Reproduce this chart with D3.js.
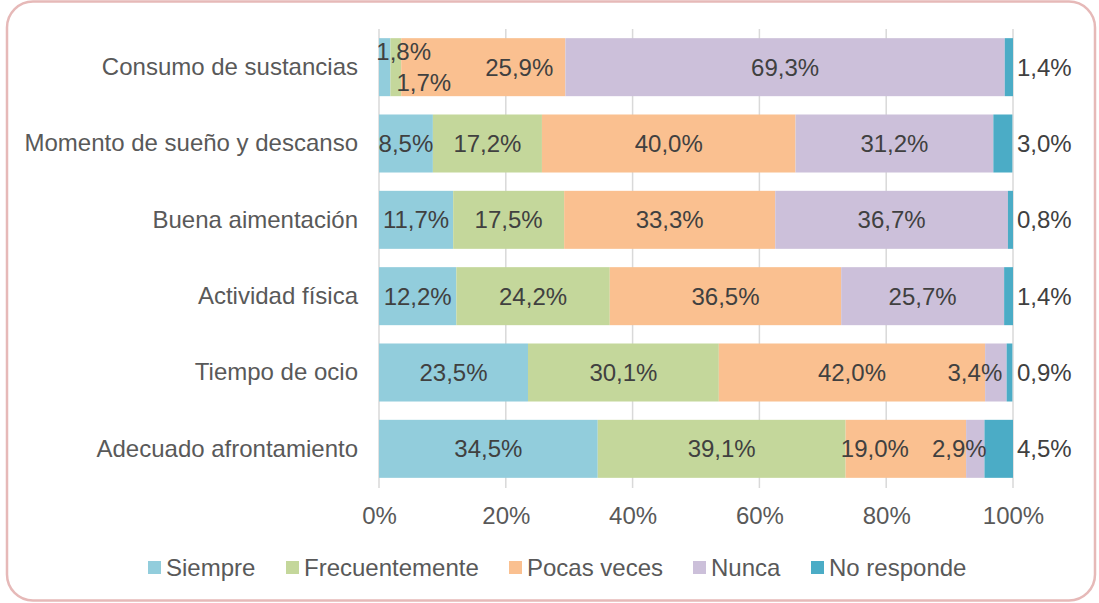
<!DOCTYPE html>
<html>
<head>
<meta charset="utf-8">
<script src="https://cdn.jsdelivr.net/npm/d3@7"></script>
<style>
  body { margin: 0; background: #fff; }
  svg { display: block; font-family: "Liberation Sans", Arial, sans-serif; }
</style>
</head>
<body>
<svg class="chart"></svg>
<script>
// data (percent)
var categories = ["Consumo de sustancias", "Momento de sueño y descanso", "Buena aimentación",
                  "Actividad física", "Tiempo de ocio", "Adecuado afrontamiento"];
var seriesNames = ["Siempre", "Frecuentemente", "Pocas veces", "Nunca", "No responde"];
var siempre        = [1.8, 8.5, 11.7, 12.2, 23.5, 34.5];
var frecuentemente = [1.7, 17.2, 17.5, 24.2, 30.1, 39.1];
var pocasVeces     = [25.9, 40.0, 33.3, 36.5, 42.0, 19.0];
var nunca          = [69.3, 31.2, 36.7, 25.7, 3.4, 2.9];
var noResponde     = [1.4, 3.0, 0.8, 1.4, 0.9, 4.5];
var xTicks = [0, 20, 40, 60, 80, 100];

var colors = ["#92CDDC", "#C4D79B", "#FAC090", "#CCC0DA", "#4BACC6"];

// hand-moved labels, as in the original (category index + series index -> px nudge)
var labelNudge = {
  "0-0": [19, -16], "0-1": [28, 15], "0-2": [36, 0],
  "4-3": [-21, 0],
  "5-2": [-31, 0], "5-3": [-16, 0]
};

var width = 1099, height = 603;
var fontSize = 24;

var svg = d3.select(".chart").attr("width", width).attr("height", height);

// rounded frame
svg.append("rect")
  .attr("x", 7).attr("y", 1.5)
  .attr("width", 1088).attr("height", 599)
  .attr("rx", 26).attr("ry", 26)
  .attr("fill", "#fff")
  .attr("stroke", "#E6B9B8")
  .attr("stroke-width", 2.5);

var x = d3.scaleLinear().domain([0, 100]).range([379, 1013]);
var y = d3.scaleBand().domain(categories).range([29, 487])
  .paddingInner(0.24).paddingOuter(0.12);

// gridlines
svg.append("g").selectAll("line")
  .data(xTicks)
  .enter().append("line")
  .attr("x1", function(d) { return x(d); })
  .attr("x2", function(d) { return x(d); })
  .attr("y1", 29).attr("y2", 488)
  .attr("stroke", "#D9D9D9")
  .attr("stroke-width", 1.5);

// stack the series
var table = categories.map(function(c, i) {
  var row = { cat: c, idx: i };
  row[seriesNames[0]] = siempre[i];
  row[seriesNames[1]] = frecuentemente[i];
  row[seriesNames[2]] = pocasVeces[i];
  row[seriesNames[3]] = nunca[i];
  row[seriesNames[4]] = noResponde[i];
  return row;
});
var stacked = d3.stack().keys(seriesNames)(table);

var layers = svg.append("g").selectAll("g")
  .data(stacked)
  .enter().append("g")
  .attr("fill", function(d, i) { return colors[i]; });

layers.selectAll("rect")
  .data(function(d) { return d; })
  .enter().append("rect")
  .attr("x", function(d) { return x(d[0]); })
  .attr("y", function(d) { return y(d.data.cat); })
  .attr("width", function(d) { return Math.min(x(100), x(d[1])) - x(d[0]); })
  .attr("height", y.bandwidth());

// data labels
var labels = svg.append("g")
  .attr("font-size", fontSize)
  .attr("fill", "#404040");

stacked.forEach(function(layer, s) {
  layer.forEach(function(d) {
    var i = d.data.idx;
    var v = d.data[layer.key];
    var cy = y(d.data.cat) + y.bandwidth() / 2;
    var t = labels.append("text")
      .attr("dy", "0.35em")
      .text(v.toFixed(1).replace(".", ",") + "%");
    if (s === seriesNames.length - 1) {
      t.attr("x", x(100) + 4).attr("y", cy).attr("text-anchor", "start");
    } else {
      var n = labelNudge[i + "-" + s] || [0, 0];
      t.attr("x", (x(d[0]) + x(d[1])) / 2 + n[0])
       .attr("y", cy + n[1])
       .attr("text-anchor", "middle");
    }
  });
});

// category axis
var yAxis = d3.axisLeft(y).tickSize(0).tickPadding(21);
svg.append("g")
  .attr("transform", "translate(" + x(0) + ",0)")
  .call(yAxis)
  .call(function(g) {
    g.select(".domain").remove();
    g.selectAll(".tick text")
      .attr("font-size", fontSize)
      .attr("font-family", "Liberation Sans, Arial, sans-serif")
      .attr("fill", "#595959");
  });

// percent axis
var xAxis = d3.axisBottom(x).tickValues(xTicks)
  .tickFormat(function(d) { return d + "%"; })
  .tickSize(0).tickPadding(20);
svg.append("g")
  .attr("transform", "translate(0,487)")
  .call(xAxis)
  .call(function(g) {
    g.select(".domain").remove();
    g.selectAll(".tick text")
      .attr("font-size", fontSize)
      .attr("font-family", "Liberation Sans, Arial, sans-serif")
      .attr("fill", "#595959");
  });

// legend
var legendX = [148, 286, 509, 693, 811];
var legend = svg.append("g").selectAll("g")
  .data(seriesNames)
  .enter().append("g")
  .attr("transform", function(d, i) { return "translate(" + legendX[i] + ",561)"; });

legend.append("rect")
  .attr("width", 13).attr("height", 13)
  .attr("fill", function(d, i) { return colors[i]; });

legend.append("text")
  .attr("x", 18).attr("y", 6.5).attr("dy", "0.35em")
  .attr("font-size", fontSize)
  .attr("fill", "#595959")
  .text(function(d) { return d; });
</script>
</body>
</html>
